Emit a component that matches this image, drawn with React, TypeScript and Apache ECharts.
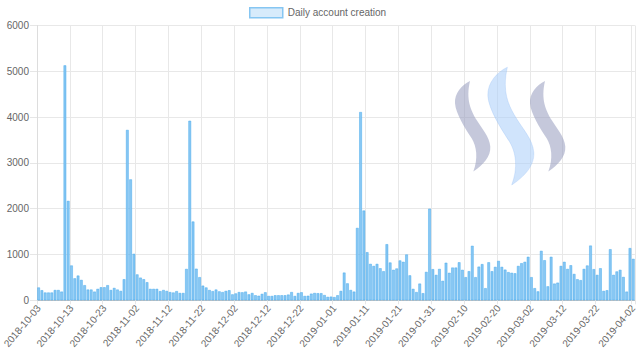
import React, { useEffect, useRef } from "react";
import * as echarts from "echarts";

// Daily account creation values, by month (starting 2018-10-03)
const oct2018 = [280, 220, 170, 170, 170, 225, 225, 190, 5130, 2170, 760, 480, 540, 445, 330, 235, 235, 190, 250, 285, 285, 330, 225, 270, 235, 205, 460, 3720, 2640];
const nov2018 = [1015, 565, 495, 460, 395, 250, 250, 250, 200, 225, 205, 180, 170, 200, 160, 160, 685, 3920, 1720, 690, 505, 320, 280, 225, 200, 235, 195, 180, 205, 220];
const dec2018 = [130, 150, 180, 175, 190, 130, 160, 110, 100, 140, 175, 95, 95, 110, 110, 110, 110, 125, 180, 95, 160, 175, 95, 100, 145, 160, 155, 155, 115, 75, 80];
const jan2019 = [70, 110, 205, 605, 370, 225, 190, 1580, 4110, 1960, 1050, 795, 750, 795, 700, 635, 1225, 825, 665, 695, 870, 840, 1000, 545, 250, 180, 365, 155, 620, 2000, 680];
const feb2019 = [555, 685, 425, 820, 600, 715, 715, 830, 665, 505, 635, 1190, 505, 735, 790, 265, 830, 635, 730, 860, 730, 670, 615, 600, 590, 750, 810, 840];
const mar2019 = [950, 505, 265, 195, 1080, 875, 305, 950, 365, 385, 750, 840, 685, 765, 575, 460, 440, 685, 760, 1195, 680, 555, 700, 205, 220, 1115, 555, 630, 665, 510, 190];
const apr2019 = [1140, 905];

const values = [...oct2018, ...nov2018, ...dec2018, ...jan2019, ...feb2019, ...mar2019, ...apr2019];

const startDate = Date.UTC(2018, 9, 3);
const categories: string[] = values.map((_, i) => new Date(startDate + i * 86400000).toISOString().slice(0, 10));

const yTicks = { min: 0, max: 6000, interval: 1000 };
const seriesName = "Daily account creation";

const S_PATH =
  "M75,33 C50,45 28,70 30,100 C32,130 60,175 80,205 C95,230 100,265 85,305 C115,285 138,260 136,230 C134,200 110,175 95,150 C78,122 62,90 75,33 Z";

let registered = false;
function registerLogo() {
  if (registered) return;
  echarts.graphic.registerShape("steemS", echarts.graphic.extendPath(S_PATH, {}) as any);
  registered = true;
}

const FONT = "'Liberation Sans', Arial, Helvetica, sans-serif";
const lastIdx = values.length - 1;
const showTick = (i: number) => (i % 10 === 0 && i <= lastIdx - 11) || i === lastIdx;

export default function App() {
  const ref = useRef<HTMLDivElement>(null);
  useEffect(() => {
    if (!ref.current) return;
    registerLogo();
    const chart = echarts.init(ref.current, undefined, { renderer: "svg" });
    chart.setOption({
      animation: false,
      textStyle: { fontFamily: FONT },
      legend: {
        left: 249,
        top: 7,
        padding: 0,
        itemWidth: 33,
        itemHeight: 10,
        itemGap: 10,
        icon: "rect",
        textStyle: { color: "#666", fontSize: 10, fontFamily: FONT },
        data: [
          {
            name: seriesName,
            itemStyle: { color: "#d7ebfb", borderColor: "#86c6f2", borderWidth: 1.5 },
          },
        ],
      },
      grid: { left: 34.3, top: 25.5, width: 600.6, height: 274.8, containLabel: false },
      xAxis: {
        type: "category",
        data: categories,
        boundaryGap: true,
        axisLine: { show: true, lineStyle: { color: "#c4c4c4", width: 1 } },
        axisTick: { show: true, interval: showTick, length: 4, lineStyle: { color: "#e6e6e6" } },
        splitLine: { show: true, interval: showTick, lineStyle: { color: "#e8e8e8", width: 1 } },
        axisLabel: {
          interval: showTick,
          rotate: 50,
          margin: 6,
          color: "#666",
          fontSize: 10,
          fontFamily: FONT,
        },
      },
      yAxis: {
        type: "value",
        min: yTicks.min,
        max: yTicks.max,
        interval: yTicks.interval,
        axisLine: { show: true, lineStyle: { color: "#ddd" } },
        axisTick: { show: true, length: 7, lineStyle: { color: "#e6e6e6" } },
        splitLine: { show: true, lineStyle: { color: "#e8e8e8", width: 1 } },
        axisLabel: {
          color: "#666",
          fontSize: 10,
          margin: 8,
          fontFamily: FONT,
          formatter: (v: number) => String(v),
        },
      },
      graphic: [
        {
          type: "steemS",
          x: 445,
          y: 70,
          scaleX: 1 / 3,
          scaleY: 1 / 3,
          silent: true,
          z: 1,
          style: { fill: "rgba(150,155,190,0.55)" },
        },
        {
          type: "steemS",
          x: 520,
          y: 70,
          scaleX: 1 / 3,
          scaleY: 1 / 3,
          silent: true,
          z: 1,
          style: { fill: "rgba(150,155,190,0.55)" },
        },
        {
          type: "steemS",
          x: 474.9,
          y: 52.9,
          scaleX: 1.3 / 3,
          scaleY: 1.3 / 3,
          silent: true,
          z: 1,
          style: { fill: "rgba(170,205,250,0.55)", stroke: "rgba(120,170,240,0.5)", lineWidth: 1 },
        },
      ],
      series: [
        {
          name: seriesName,
          type: "bar",
          data: values,
          barCategoryGap: "18%",
          itemStyle: { color: "#88c7f3", borderColor: "rgba(54,162,235,0.85)", borderWidth: 0.5 },
          emphasis: { disabled: true },
        },
      ],
    });
    return () => chart.dispose();
  }, []);
  return (
    <div
      ref={ref}
      style={{ position: "absolute", left: 0, top: 0, width: 640, height: 361, background: "#fff" }}
    />
  );
}
